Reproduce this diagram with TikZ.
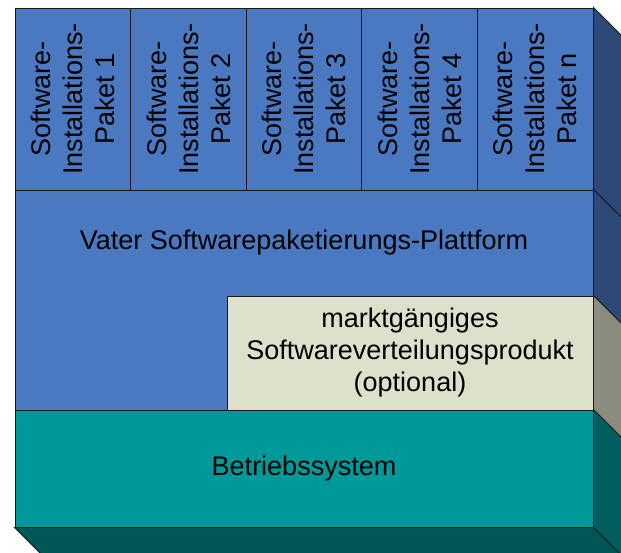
\documentclass[tikz,border=0pt]{standalone}
\usepackage{fontspec}
\setmainfont{Liberation Sans}
\usetikzlibrary{calc}
\definecolor{frontblue}{RGB}{74,121,193}
\definecolor{sideblue}{RGB}{44,73,120}
\definecolor{frontbeige}{RGB}{221,225,204}
\definecolor{sidebeige}{RGB}{138,140,126}
\definecolor{frontteal}{RGB}{0,153,153}
\definecolor{sideteal}{RGB}{0,94,94}
\tikzset{
  txt/.style={font=\fontsize{27}{32}\selectfont,align=center},
  layer/.style={txt,draw=black!90,line width=0.9pt,inner sep=0pt},
  pkg/.style={layer,fill=frontblue,rotate=90,minimum width=182pt,minimum height=115.6pt},
  side/.style={draw=black!90,line width=0.9pt}
}
\begin{document}
\begin{tikzpicture}[x=1pt,y=-1pt]
        \useasboundingbox (0,0) rectangle (621,553);
        \clip (0,0) rectangle (621,553);
        \path (72.8,99) node[pkg](pkg1){Software-\\Installations-\\Paket 1};
        \path (188.4,99) node[pkg](pkg2){Software-\\Installations-\\Paket 2};
        \path (304,99) node[pkg](pkg3){Software-\\Installations-\\Paket 3};
        \path (419.6,99) node[pkg](pkg4){Software-\\Installations-\\Paket 4};
        \path (535.2,99) node[pkg](pkgn){Software-\\Installations-\\Paket n};
        \path (304,300) node[layer,fill=frontblue,minimum width=578pt,minimum height=220pt](vater){};
        \path (vater.north) ++(0,53) node[txt](vatertext){Vater Softwarepaketierungs-Plattform};
        \path (410,353) node[layer,fill=frontbeige,minimum width=366pt,minimum height=114pt](produkt){marktgängiges\\Softwareverteilungsprodukt\\(optional)};
        \path (304,468.5) node[layer,fill=frontteal,minimum width=578pt,minimum height=117pt](os){Betriebssystem};
        % Seiten- und Bodenflaechen
        \filldraw[side,fill=sideblue] (pkgn.south east) -- ++(40,40) -- ($(vater.north east)+(40,40)$) -- (vater.north east) -- cycle;
        \filldraw[side,fill=sideblue] (vater.north east) -- ++(40,40) -- ($(produkt.north east)+(40,40)$) -- (produkt.north east) -- cycle;
        \filldraw[side,fill=sidebeige] (produkt.north east) -- ++(40,40) -- ($(produkt.south east)+(40,40)$) -- (produkt.south east) -- cycle;
        \filldraw[side,fill=sideteal] (os.north east) -- ++(40,40) -- ($(os.south east)+(40,40)$) -- (os.south east) -- cycle;
        \filldraw[side,fill=sideteal!90!black] (os.south west) -- (os.south east) -- ++(40,40) -- ($(os.south west)+(40,40)$) -- cycle;
\end{tikzpicture}
\end{document}
